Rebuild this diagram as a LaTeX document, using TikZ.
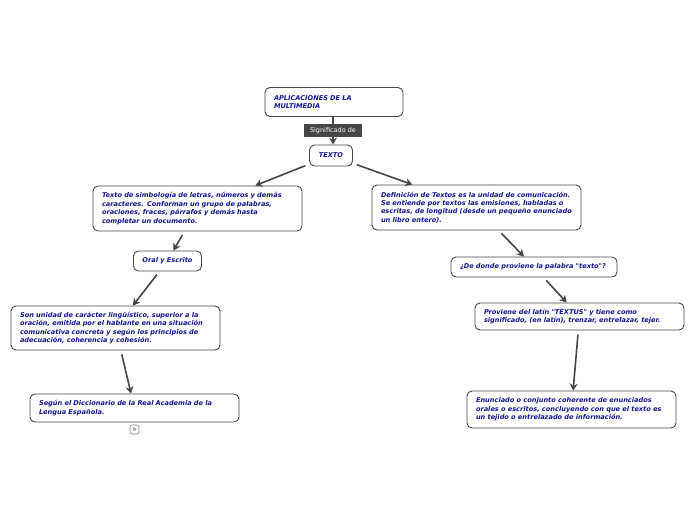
\documentclass[tikz,border=0pt]{standalone}
\usepackage{fontspec}
\newfontfamily\mapfont{DejaVu Sans}
\usetikzlibrary{arrows.meta}
\definecolor{ink}{RGB}{20,20,140}
\definecolor{edge}{RGB}{70,70,70}

\begin{document}
\begin{tikzpicture}[x=1pt, y=-1pt,
  box/.style={draw=edge, rounded corners=5pt, fill=white, line width=0.9pt, align=left, inner xsep=9pt, inner ysep=0pt,
    font=\mapfont\bfseries\itshape\fontsize{6.6}{8.4}\selectfont, text=ink},
  link/.style={draw=edge, line width=1.6pt, -{Stealth[length=7pt,width=8pt]}, shorten <=4pt},
  tag/.style={fill=edge, text=white, font=\mapfont\fontsize{6.5}{8}\selectfont, minimum width=58pt, minimum height=13pt, inner sep=0pt}]
  \useasboundingbox (0,0) rectangle (696,520);
  \node[box, text width=120pt, minimum height=29pt] (aplic) at (334,102) {APLICACIONES DE LA\\MULTIMEDIA};
  \node[box, align=center, minimum width=43pt, minimum height=21pt] (texto) at (331,155.5) {TEXTO};
  \node[box, text width=191pt, minimum height=45pt] (simbol) at (197.5,208.5) {Texto de simbología de letras, números y demás\\caracteres. Conforman un grupo de palabras,\\oraciones, fraces, párrafos y demás hasta\\completar un documento.};
  \node[box, text width=191pt, minimum height=45pt] (defin) at (476.5,207.5) {Definición de Textos es la unidad de comunicación.\\Se entiende por textos las emisiones, habladas o\\escritas, de longitud (desde un pequeño enunciado\\un libro entero).};
  \node[box, align=center, minimum width=67pt, minimum height=20pt] (oral) at (167.5,261) {Oral y Escrito};
  \node[box, text width=191pt, minimum height=44pt] (unidad) at (115.5,328) {Son unidad de carácter lingüístico, superior a la\\oración, emitida por el hablante en una situación\\comunicativa concreta y según los principios de\\adecuación, coherencia y cohesión.};
  \node[box, text width=191pt, minimum height=28pt] (segun) at (134.5,408) {Según el Diccionario de la Real Academia de la\\Lengua Española.};
  \node[draw=gray, rounded corners=2pt, line width=0.6pt, minimum width=9pt, minimum height=9pt, inner sep=0pt, font=\mapfont\fontsize{5}{5}\selectfont, text=edge] (nine) at (134.5,429.5) {9};
  \node[box, text width=148pt, minimum height=20pt] (donde) at (534,267) {¿De donde proviene la palabra "texto"?};
  \node[box, text width=191pt, minimum height=27pt] (proviene) at (579.5,316.5) {Proviene del latín "TEXTUS" y tiene como\\significado, (en latín), trenzar, entrelazar, tejer.};
  \node[box, text width=191pt, minimum height=37pt] (enunc) at (571.5,409.5) {Enunciado o conjunto coherente de enunciados\\orales o escritos, concluyendo con que el texto es\\un tejido o entrelazado de información.};

  \draw[link, shorten <=0pt] ([xshift=-1pt]aplic.south) -- node[tag] {Significado de} ([xshift=-1pt]aplic.south |- texto.north);
  \draw[link] (texto) -- (simbol);
  \draw[link] (texto) -- (defin);
  \draw[link] (simbol) -- (oral);
  \draw[link] (oral) -- (unidad);
  \draw[link] (unidad) -- (segun);
  \draw[link] (defin) -- (donde);
  \draw[link] (donde) -- (proviene);
  \draw[link] (proviene) -- (enunc);
\end{tikzpicture}
\end{document}
